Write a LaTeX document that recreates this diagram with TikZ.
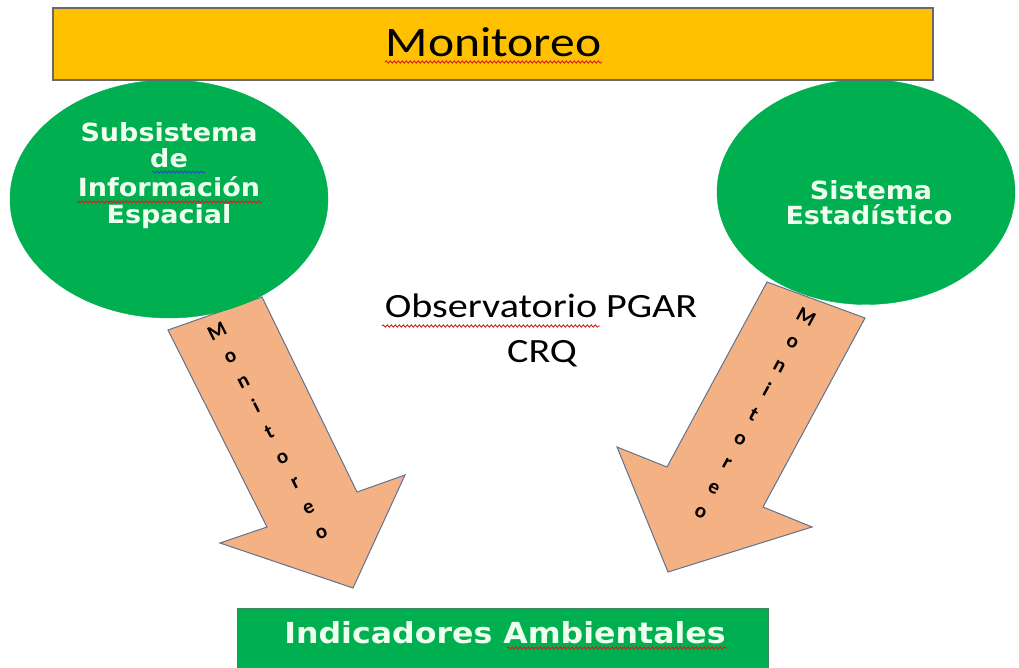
\documentclass[tikz,border=0pt]{standalone}
\usepackage{fontspec}
\usepackage{graphicx}
\setmainfont{Carlito}
\newfontfamily\dv{DejaVu Sans}
\usetikzlibrary{shapes.geometric,decorations.pathmorphing}
\definecolor{okgreen}{HTML}{00B050}
\definecolor{okyellow}{HTML}{FFC000}
\definecolor{okorange}{HTML}{F4B183}
\definecolor{okedge}{RGB}{95,115,145}
\definecolor{okgray}{RGB}{105,105,105}
\definecolor{oktext}{RGB}{238,255,238}
\definecolor{okred}{RGB}{215,30,30}
\definecolor{okblue}{RGB}{40,70,200}
\newcommand\hs[1]{\scalebox{1.18}[1]{#1}}
\newcommand\hb[1]{\scalebox{1.08}[1]{#1}}
\begin{document}
\begin{tikzpicture}[x=1pt,y=-1pt,
  bubble/.style={ellipse,fill=okgreen,draw=okgreen,inner sep=0pt},
  bubtext/.style={anchor=base,text=oktext,inner sep=0pt,font=\dv\bfseries\fontsize{25}{28}\selectfont},
  calibtext/.style={anchor=base,text=black,inner sep=0pt,font=\fontsize{34}{40}\selectfont},
  arrowshape/.style={fill=okorange,draw=okedge,line width=1pt,line join=miter},
  arrowletter/.style={anchor=base,inner sep=0pt,text=black,font=\bfseries\fontsize{21}{24}\selectfont},
  squig/.style={line width=0.9pt,decorate,decoration={snake,amplitude=1.1pt,segment length=4pt}}]
\useasboundingbox (0,0) rectangle (1019,668);
\clip (0,0) rectangle (1019,668);
\fill[white] (0,0) rectangle (1019,668);

% left arrow
\coordinate (l1) at (262,297);
\coordinate (l2) at (168,330);
\coordinate (l3) at (267,527);
\coordinate (l4) at (220,543);
\coordinate (l5) at (353,588);
\coordinate (l6) at (405,475);
\coordinate (l7) at (357,492);
\filldraw[arrowshape] (l1) -- (l2) -- (l3) -- (l4) -- (l5) -- (l6) -- (l7) -- cycle;

% right arrow
\coordinate (r1) at (767,282);
\coordinate (r2) at (865,318);
\coordinate (r3) at (763,507);
\coordinate (r4) at (812,527);
\coordinate (r5) at (668,572);
\coordinate (r6) at (617,447);
\coordinate (r7) at (667,467);
\filldraw[arrowshape] (r1) -- (r2) -- (r3) -- (r4) -- (r5) -- (r6) -- (r7) -- cycle;

% letters in arrows
\foreach \ch [count=\i from 0] in {M,o,n,i,t,o,r,e,o}
  \node[arrowletter,rotate=26.7] (la\i) at ({220+13*\i},{337+25.1*\i}) {\ch};
\foreach \ch [count=\i from 0] in {M,o,n,i,t,o,r,e,o}
  \node[arrowletter,rotate=-28.4] (ra\i) at ({803-13.1*\i},{323+24.25*\i}) {\ch};

% ellipses
\node[bubble,minimum width=318pt,minimum height=238pt] (sie) at (169,199) {};
\node[bubble,minimum width=298pt,minimum height=225pt] (se) at (866,192) {};

\node[bubtext] (s1) at (169,141.5) {\hb{Subsistema}};
\node[bubtext] (s2) at (169,168) {\hb{de}};
\node[bubtext] (s3) at (169,197) {\hb{Información}};
\node[bubtext] (s4) at (169,224) {\hb{Espacial}};
\node[bubtext] (e1) at (871,200) {\hb{Sistema}};
\node[bubtext] (e2) at (869,225) {\hb{Estadístico}};

% top bar
\node[draw=okgray,fill=okyellow,line width=1.2pt,minimum width=880pt,minimum height=72pt,inner sep=0pt] (top) at (493,44) {};
\node[anchor=base,inner sep=0pt,font=\fontsize{42}{48}\selectfont] (mon) at (493.5,57) {\hs{Monitoreo}};

% centre text
\node[calibtext] (obs) at (541,317) {\hs{Observatorio PGAR}};
\node[calibtext] (crq) at (542,362) {\hs{CRQ}};

% bottom bar
\node[draw={rgb,255:red,60;green,135;blue,95},fill=okgreen,line width=1pt,minimum width=531pt,minimum height=70pt,inner sep=0pt] (ind) at (502.5,643) {};
\node[anchor=base,inner sep=0pt,text=oktext,font=\dv\bfseries\fontsize{29}{32}\selectfont] (indt) at (505,643) {\scalebox{1.09}[1]{Indicadores Ambientales}};

% spell-check underlines
\draw[squig,okred] (385,62) -- (602,62);
\draw[squig,okred] (382,326) -- (600,326);
\draw[squig,okred] (77,202) -- (262,202);
\draw[squig,okblue] (152,172) -- (205,172);
\draw[squig,okred] (507,648) -- (727,648);
\end{tikzpicture}
\end{document}
